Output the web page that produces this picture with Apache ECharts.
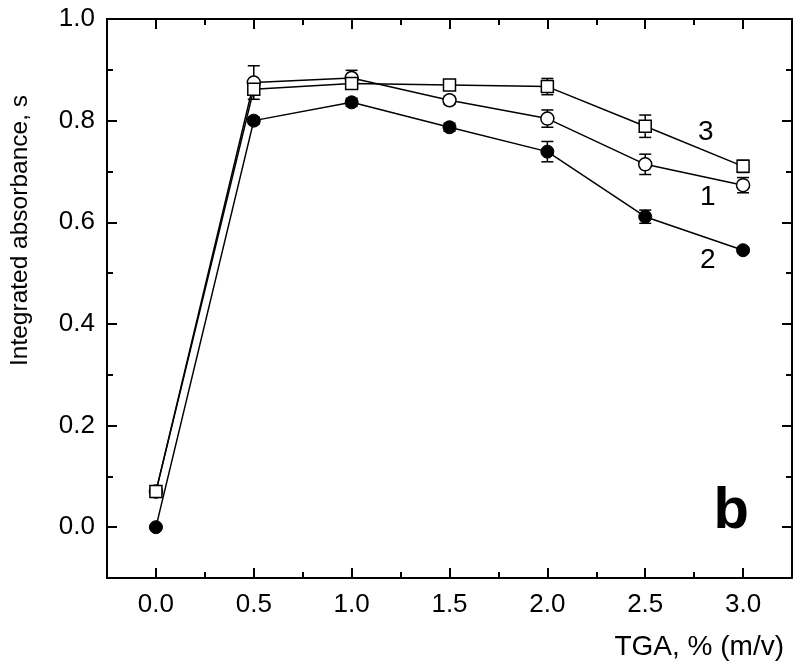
<!DOCTYPE html>
<html>
<head>
<meta charset="utf-8">
<script src="https://cdn.jsdelivr.net/npm/echarts@6/dist/echarts.min.js"></script>
<style>
  html, body { margin: 0; padding: 0; background: #fff; }
  #chart { width: 800px; height: 672px; }
</style>
</head>
<body>
<div id="chart"></div>
<script>
// TGA concentration, % (m/v)
var tga = [0, 0.5, 1.0, 1.5, 2.0, 2.5, 3.0];

// curve 1 - open circles
var abs1 = [0.070, 0.875, 0.884, 0.840, 0.804, 0.714, 0.673];
var err1 = [0.006, 0.033, 0.015, 0.008, 0.017, 0.020, 0.015];
// curve 2 - filled circles
var abs2 = [0.000, 0.800, 0.836, 0.787, 0.739, 0.611, 0.545];
var err2 = [0.000, 0.007, 0.008, 0.008, 0.020, 0.013, 0.006];
// curve 3 - open squares
var abs3 = [0.070, 0.862, 0.873, 0.870, 0.867, 0.789, 0.710];
var err3 = [0.006, 0.010, 0.008, 0.010, 0.016, 0.022, 0.012];

var xMajor = [0, 0.5, 1.0, 1.5, 2.0, 2.5, 3.0];
var xMinor = [0.25, 0.75, 1.25, 1.75, 2.25, 2.75];
var yMajor = [0, 0.2, 0.4, 0.6, 0.8, 1.0];
var yMinor = [0.1, 0.3, 0.5, 0.7, 0.9];

// curve numbers, in data coordinates
var tagText = ['3', '1', '2'];
var tagX = [2.81, 2.82, 2.82];
var tagY = [0.777, 0.649, 0.525];

var FONT = 'Liberation Sans, Arial, sans-serif';

function pts(ys) {
    var out = [];
    for (var i = 0; i < tga.length; i++) out.push([tga[i], ys[i]]);
    return out;
}
function errPts(ys, es) {
    var out = [];
    for (var i = 0; i < tga.length; i++) {
        if (es[i] > 0) out.push([tga[i], ys[i], es[i]]);
    }
    return out;
}

function errorBars(params, api) {
    var x = api.value(0), y = api.value(1), e = api.value(2);
    var hi = api.coord([x, y + e]);
    var lo = api.coord([x, y - e]);
    var w = 6;
    var st = { stroke: '#000', lineWidth: 1.5 };
    return {
        type: 'group',
        children: [
            { type: 'line', shape: { x1: hi[0], y1: hi[1], x2: lo[0], y2: lo[1] }, style: st },
            { type: 'line', shape: { x1: hi[0] - w, y1: hi[1], x2: hi[0] + w, y2: hi[1] }, style: st },
            { type: 'line', shape: { x1: lo[0] - w, y1: lo[1], x2: lo[0] + w, y2: lo[1] }, style: st }
        ]
    };
}

function xAx(pos, vals, len, withLine, withLabel) {
    return {
        type: 'value', position: pos, min: -0.25, max: 3.25,
        axisLine: { show: withLine, onZero: false, lineStyle: { color: '#000', width: 2 } },
        axisTick: { show: true, inside: true, length: len, customValues: vals, lineStyle: { color: '#000', width: 2 } },
        axisLabel: withLabel ? {
            show: true, customValues: xMajor, margin: 14, color: '#000', fontSize: 26, fontFamily: FONT,
            formatter: function (v) { return v.toFixed(1); }
        } : { show: false },
        splitLine: { show: false }
    };
}
function yAx(pos, vals, len, withLine, withLabel) {
    return {
        type: 'value', position: pos, min: -0.1, max: 1.0,
        axisLine: { show: withLine, onZero: false, lineStyle: { color: '#000', width: 2 } },
        axisTick: { show: true, inside: true, length: len, customValues: vals, lineStyle: { color: '#000', width: 2 } },
        axisLabel: withLabel ? {
            show: true, customValues: yMajor, margin: 12, color: '#000', fontSize: 26, fontFamily: FONT,
            formatter: function (v) { return v.toFixed(1); }
        } : { show: false },
        splitLine: { show: false }
    };
}

var xMain = xAx('bottom', xMajor, 10, true, true);
xMain.name = 'TGA, % (m/v)';
xMain.nameLocation = 'end';
xMain.nameGap = -8;
xMain.nameTextStyle = { color: '#000', fontSize: 28, fontFamily: FONT, align: 'right', verticalAlign: 'top', padding: [55, 0, 0, 0] };

var yMain = yAx('left', yMajor, 10, true, true);
yMain.name = 'Integrated absorbance, s';
yMain.nameLocation = 'middle';
yMain.nameGap = 74;
yMain.nameTextStyle = { color: '#000', fontSize: 24.5, fontFamily: FONT, padding: [0, 0, 0, 136] };

var lineSt = { color: '#000', width: 1.5 };

var tagData = [];
for (var i = 0; i < tagText.length; i++) tagData.push({ value: [tagX[i], tagY[i]], name: tagText[i] });

var plainLabel = function (size, weight) {
    return {
        show: true, position: 'inside', color: '#000', fontSize: size, fontWeight: weight,
        fontFamily: FONT, textBorderWidth: 0,
        formatter: function (p) { return p.name; }
    };
};

var option = {
    animation: false,
    backgroundColor: '#fff',
    grid: { left: 107, right: 8, top: 19, bottom: 94, containLabel: false },
    xAxis: [
        xMain,
        xAx('bottom', xMinor, 6, false, false),
        xAx('top', xMajor, 10, true, false),
        xAx('top', xMinor, 6, false, false)
    ],
    yAxis: [
        yMain,
        yAx('left', yMinor, 6, false, false),
        yAx('right', yMajor, 10, true, false),
        yAx('right', yMinor, 6, false, false)
    ],
    series: [
        { type: 'custom', renderItem: errorBars, data: errPts(abs1, err1), z: 1 },
        { type: 'custom', renderItem: errorBars, data: errPts(abs2, err2), z: 1 },
        { type: 'custom', renderItem: errorBars, data: errPts(abs3, err3), z: 1 },
        {
            name: '1', type: 'line', data: pts(abs1), z: 3,
            symbol: 'circle', symbolSize: 13,
            lineStyle: lineSt,
            itemStyle: { color: '#fff', borderColor: '#000', borderWidth: 1.5 }
        },
        {
            name: '2', type: 'line', data: pts(abs2), z: 3,
            symbol: 'circle', symbolSize: 13,
            lineStyle: lineSt,
            itemStyle: { color: '#000', borderColor: '#000', borderWidth: 1 }
        },
        {
            name: '3', type: 'line', data: pts(abs3), z: 4,
            symbol: 'rect', symbolSize: 12,
            lineStyle: lineSt,
            itemStyle: { color: '#fff', borderColor: '#000', borderWidth: 1.5 }
        },
        {
            type: 'scatter', data: tagData, symbolSize: 0, z: 5,
            itemStyle: { color: '#000', opacity: 1 },
            label: plainLabel(28, 'normal')
        },
        {
            type: 'scatter', data: [{ value: [2.94, 0.03], name: 'b' }], symbolSize: 0, z: 5,
            itemStyle: { color: '#000', opacity: 1 },
            label: plainLabel(58, 'bold')
        }
    ]
};

var chart = echarts.init(document.getElementById('chart'), null, { renderer: 'canvas' });
chart.setOption(option);
</script>
</body>
</html>
